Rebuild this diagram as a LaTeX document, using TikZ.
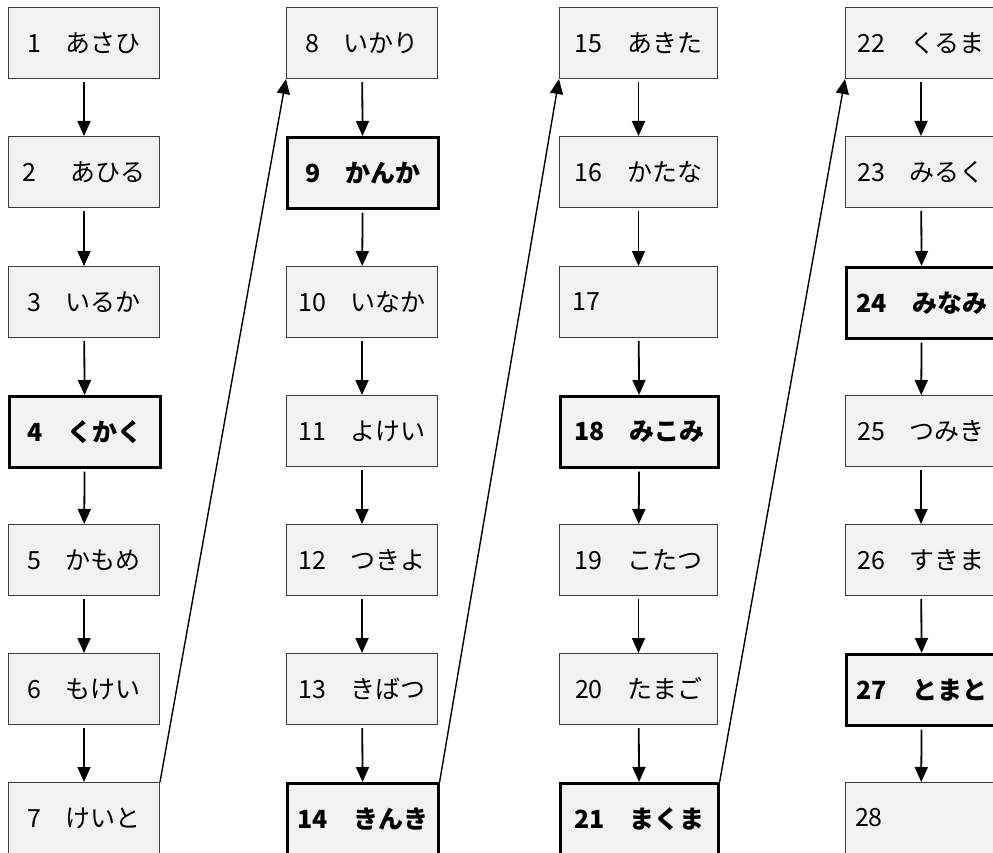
\documentclass[tikz,border=0pt]{standalone}
\usepackage{fontspec}
\setmainfont{Noto Sans CJK JP}
\usetikzlibrary{arrows.meta}
\definecolor{boxgray}{RGB}{242,242,242}
\definecolor{edgegray}{RGB}{60,60,60}
\newcommand{\gap}{\hspace{1.0em}}

\begin{document}
\begin{tikzpicture}[x=1pt, y=-1pt, >={Triangle[width=13pt,length=15pt]},
  box/.style={rectangle, draw=edgegray, line width=1pt, fill=boxgray, minimum width=151pt, minimum height=71pt, inner sep=0pt, anchor=north west, font=\fontsize{25}{28}\selectfont},
  boldbox/.style={box, draw=black, line width=2.6pt, font=\fontsize{25}{28}\selectfont\bfseries},
  widebox/.style={minimum width=158pt},
  leftbox/.style={text width=132pt, align=left},
  down/.style={->, line width=1.8pt, shorten <=3pt},
  jump/.style={->, line width=1.4pt}]
\useasboundingbox (0,0) rectangle (993,853);
% Column 1
\node[box] (b1) at (8,7) {1\gap あさひ};
\node[box] (b2) at (8,136) {2\hspace{1.4em}あひる};
\node[box] (b3) at (8,266) {3\gap いるか};
\node[boldbox] (b4) at (8,395) {4\gap くかく};
\node[box] (b5) at (8,524) {5\gap かもめ};
\node[box] (b6) at (8,653) {6\gap もけい};
\node[box] (b7) at (8,782) {7\gap けいと};
% Column 2
\node[box] (b8) at (286,7) {8\gap いかり};
\node[boldbox] (b9) at (286,136) {9\gap かんか};
\node[box] (b10) at (286,266) {10\gap いなか};
\node[box] (b11) at (286,395) {11\gap よけい};
\node[box] (b12) at (286,524) {12\gap つきよ};
\node[box] (b13) at (286,653) {13\gap きばつ};
\node[boldbox] (b14) at (286,782) {14\gap きんき};
% Column 3
\node[box, widebox] (b15) at (559,7) {15\gap あきた};
\node[box, widebox] (b16) at (559,136) {16\gap かたな};
\node[box, widebox, leftbox] (b17) at (559,266) {17};
\node[boldbox, widebox] (b18) at (559,395) {18\gap みこみ};
\node[box, widebox] (b19) at (559,524) {19\gap こたつ};
\node[box, widebox] (b20) at (559,653) {20\gap たまご};
\node[boldbox, widebox] (b21) at (559,782) {21\gap まくま};
% Column 4
\node[box] (b22) at (845,7) {22\gap くるま};
\node[box] (b23) at (845,136) {23\gap みるく};
\node[boldbox] (b24) at (845,266) {24\gap みなみ};
\node[box] (b25) at (845,395) {25\gap つみき};
\node[box] (b26) at (845,524) {26\gap すきま};
\node[boldbox] (b27) at (845,653) {27\gap とまと};
\node[box, leftbox] (b28) at (845,782) {28};
% Arrows down each column
\draw[down] (b1) -- (b2);
\draw[down] (b2) -- (b3);
\draw[down] (b3) -- (b4);
\draw[down] (b4) -- (b5);
\draw[down] (b5) -- (b6);
\draw[down] (b6) -- (b7);
\draw[down] (b8) -- (b9);
\draw[down] (b9) -- (b10);
\draw[down] (b10) -- (b11);
\draw[down] (b11) -- (b12);
\draw[down] (b12) -- (b13);
\draw[down] (b13) -- (b14);
\draw[down] (b15) -- (b16);
\draw[down] (b16) -- (b17);
\draw[down] (b17) -- (b18);
\draw[down] (b18) -- (b19);
\draw[down] (b19) -- (b20);
\draw[down] (b20) -- (b21);
\draw[down] (b22) -- (b23);
\draw[down] (b23) -- (b24);
\draw[down] (b24) -- (b25);
\draw[down] (b25) -- (b26);
\draw[down] (b26) -- (b27);
\draw[down] (b27) -- (b28);
% Jumps to the next column
\draw[jump] (b7.north east) -- (b8.south west);
\draw[jump] (b14.north east) -- (b15.south west);
\draw[jump] (b21.north east) -- (b22.south west);
\end{tikzpicture}
\end{document}
